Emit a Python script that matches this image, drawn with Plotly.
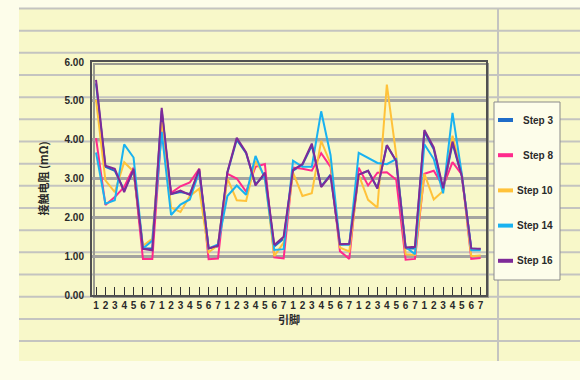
import plotly.graph_objects as go

# ---- data ----
pins = [1, 2, 3, 4, 5, 6, 7] * 6
series_names = ["Step 3", "Step 8", "Step 10", "Step 14", "Step 16"]

step3 = [5.45, 3.30, 3.20, 2.70, 3.20, 1.20, 1.20,
         4.75, 2.60, 2.65, 2.60, 3.20, 1.20, 1.25,
         3.15, 4.00, 3.65, 2.85, 3.10, 1.25, 1.45,
         3.20, 3.35, 3.85, 2.80, 3.10, 1.30, 1.30,
         3.10, 3.20, 2.75, 3.85, 3.45, 1.20, 1.20,
         4.20, 3.75, 2.70, 3.90, 3.05, 1.20, 1.18]
step8 = [4.04, 2.32, 2.52, 2.78, 3.28, 0.93, 0.93,
         4.30, 2.63, 2.80, 2.90, 3.25, 0.92, 0.94,
         3.12, 3.00, 2.66, 3.30, 3.37, 0.97, 0.94,
         3.28, 3.25, 3.20, 3.65, 3.30, 1.13, 0.93,
         3.28, 2.82, 3.15, 3.16, 2.97, 0.91, 0.93,
         3.12, 3.20, 2.80, 3.42, 3.10, 0.93, 0.95]
step10 = [5.03, 2.95, 2.65, 3.42, 3.18, 1.27, 1.45,
          4.45, 2.25, 2.14, 2.55, 2.74, 1.10, 1.28,
          3.00, 2.44, 2.42, 3.45, 3.05, 1.00, 1.35,
          3.15, 2.55, 2.62, 3.97, 3.38, 1.22, 1.12,
          3.10, 2.45, 2.25, 5.42, 3.60, 1.05, 1.03,
          3.12, 2.46, 2.68, 4.10, 3.10, 1.00, 1.02]
step14 = [3.67, 2.35, 2.44, 3.88, 3.54, 1.20, 1.40,
          4.20, 2.06, 2.33, 2.46, 3.18, 1.20, 1.30,
          2.55, 2.82, 2.58, 3.58, 3.00, 1.16, 1.18,
          3.46, 3.30, 3.30, 4.73, 3.60, 1.30, 1.30,
          3.66, 3.52, 3.40, 3.37, 3.50, 1.24, 1.05,
          3.88, 3.50, 2.62, 4.69, 3.10, 1.15, 1.15]
step16 = [5.54, 3.33, 3.25, 2.65, 3.25, 1.19, 1.15,
          4.82, 2.60, 2.69, 2.58, 3.25, 1.20, 1.27,
          3.16, 4.05, 3.67, 2.82, 3.15, 1.29, 1.50,
          3.22, 3.37, 3.90, 2.78, 3.08, 1.31, 1.32,
          3.10, 3.20, 2.74, 3.86, 3.45, 1.22, 1.24,
          4.25, 3.80, 2.75, 3.95, 3.05, 1.20, 1.19]

y_ticks = [0, 1, 2, 3, 4, 5, 6]
y_title = "接触电阻 (mΩ)"
x_title = "引脚"

series_values = [step3, step8, step10, step14, step16]
colors = ["#1f6cc8", "#ff2a8c", "#ffc23a", "#19b2f0", "#7e2a98"]

x_idx = list(range(len(pins)))

fig = go.Figure()
for name, vals, col in zip(series_names, series_values, colors):
    fig.add_trace(go.Scatter(
        x=x_idx, y=vals, mode="lines", name=name,
        line=dict(color=col, width=2),
        showlegend=False,
    ))

# ---- page decoration (notebook-like background) ----
W, H = 580, 380
L, R, T, B = 92, 94, 62, 85
pw, ph = W - L - R, H - T - B

def px(x):
    return (x - L) / pw

def py(y):
    return (H - B - y) / ph

shapes = []
shapes.append(dict(type="rect", xref="paper", yref="paper",
                   x0=px(19), x1=px(582), y0=py(8), y1=py(361),
                   fillcolor="#f8f8c9", line=dict(width=0), layer="below"))
for k in range(16):
    yy = 8.5 + 22.17 * k
    shapes.append(dict(type="line", xref="paper", yref="paper",
                       x0=px(19), x1=px(582), y0=py(yy), y1=py(yy),
                       line=dict(color="#c4c4c0", width=2), layer="below"))
shapes.append(dict(type="line", xref="paper", yref="paper",
                   x0=px(498), x1=px(498), y0=py(8), y1=py(361),
                   line=dict(color="#c4c4c0", width=2), layer="below"))
# frame shadow
shapes.append(dict(type="rect", xref="paper", yref="paper",
                   x0=px(94), x1=px(488), y0=py(297), y1=py(64),
                   line=dict(color="#9a9a90", width=2), fillcolor="rgba(0,0,0,0)",
                   layer="below"))

# ---- legend box (drawn as a key panel) ----
leg_x0, leg_x1, leg_y0, leg_y1 = 494, 560, 102, 280
shapes.append(dict(type="rect", xref="paper", yref="paper",
                   x0=px(leg_x0), x1=px(leg_x1), y0=py(leg_y1), y1=py(leg_y0),
                   fillcolor="#fdfdea", line=dict(color="#8a8a8a", width=1),
                   layer="above"))
annotations = []
for i, (name, col) in enumerate(zip(series_names, colors)):
    yc = 120 + 35.2 * i
    shapes.append(dict(type="line", xref="paper", yref="paper",
                       x0=px(498), x1=px(513), y0=py(yc), y1=py(yc),
                       line=dict(color=col, width=4), layer="above"))
    annotations.append(dict(xref="paper", yref="paper", x=px(555), y=py(yc),
                            xanchor="right", yanchor="middle", showarrow=False,
                            text="<b>" + name + "</b>",
                            font=dict(family="Liberation Sans, Arial", size=10,
                                      color="#2a2a2a")))

fig.update_layout(
    width=W, height=H,
    margin=dict(l=L, r=R, t=T, b=B, pad=0),
    paper_bgcolor="#fdfdea",
    plot_bgcolor="#fdfdea",
    shapes=shapes,
    annotations=annotations,
    font=dict(family="Liberation Sans, Arial", size=10, color="#2a2a2a"),
    showlegend=False,
)

fig.update_xaxes(
    range=[-0.43, 41.57],
    tickmode="array", tickvals=x_idx, ticktext=["<b>%d</b>" % p for p in pins],
    ticks="inside", ticklen=8, tickcolor="#333", tickwidth=1,
    showgrid=False, zeroline=False,
    showline=True, linecolor="#505050", linewidth=2, mirror=True,
    tickfont=dict(family="Liberation Sans, Arial", size=10, color="#2a2a2a"),
    title=dict(text="<b>" + x_title + "</b>", standoff=4,
               font=dict(family="Noto Sans CJK SC", size=11, color="#2a2a2a")),
)
fig.update_yaxes(
    range=[0, 6], tickmode="array", tickvals=y_ticks,
    ticktext=["<b>%.2f</b>" % v for v in y_ticks],
    showgrid=True, gridcolor="#a4a4a0", gridwidth=2.5,
    zeroline=False, ticks="outside", ticklen=4, tickcolor="rgba(0,0,0,0)",
    showline=True, linecolor="#505050", linewidth=2, mirror=True,
    tickfont=dict(family="Liberation Sans, Arial", size=10, color="#2a2a2a"),
    title=dict(text="<b>" + y_title + "</b>", standoff=14,
               font=dict(family="Noto Sans CJK SC", size=11, color="#2a2a2a")),
)

fig.write_html("out.html",
               config={"displayModeBar": False},
               post_script="document.body.style.margin='0';document.body.style.overflow='hidden';")
